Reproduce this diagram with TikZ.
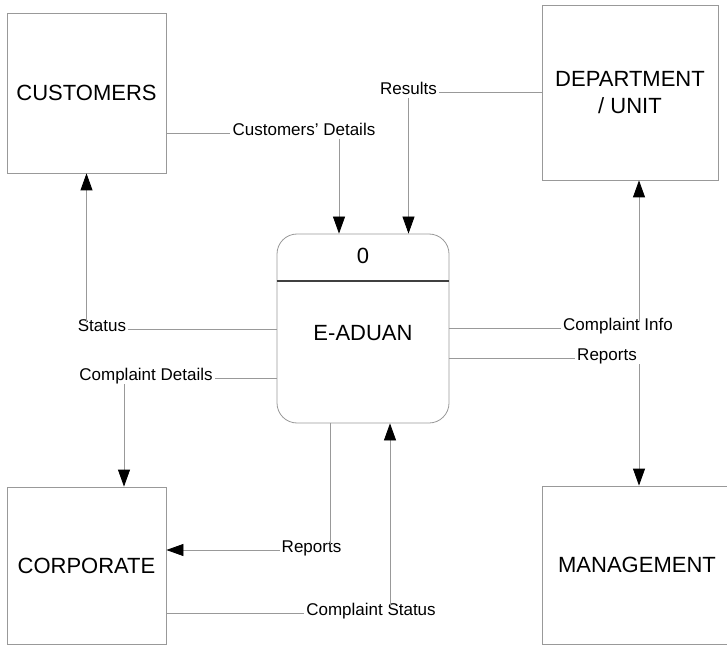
\documentclass[tikz,border=0pt]{standalone}
\usepackage{fontspec}
\setmainfont{Liberation Sans}
\usetikzlibrary{arrows.meta, positioning}

\begin{document}
\begin{tikzpicture}[
    x=1pt, y=1pt,
    entity/.style={draw=gray!80, line width=0.8pt, inner sep=0pt, align=center, font=\fontsize{22}{27}\selectfont},
    process/.style={draw=gray!80, line width=0.8pt, rounded corners=20pt, minimum width=172pt, minimum height=189pt},
    big/.style={inner sep=1pt, font=\fontsize{22}{27}\selectfont},
    flowlbl/.style={inner sep=2pt, text height=1.3ex, text depth=0.2ex, font=\fontsize{17}{20}\selectfont},
    flow/.style={draw=gray!80, line width=0.8pt},
    arr/.style={flow, -{Triangle[length=17pt, width=12pt, color=black]}}
  ]
    \useasboundingbox (0,0) rectangle (727,646);
    \fill[white] (0,0) rectangle (727,646);

    \node[entity, minimum width=159pt, minimum height=160pt] (cust) at (86.5,553) {CUSTOMERS};
    \node[entity, minimum width=176pt, minimum height=175pt] (dept) at (630,553.5) {DEPARTMENT\\/ UNIT};
    \node[entity, minimum width=159pt, minimum height=157pt] (corp) at (86.5,80.5) {CORPORATE};
    \node[entity, minimum width=190pt, minimum height=158pt] (mgmt) at (637,81) {MANAGEMENT};
    \node[process] (proc) at (363,317.5) {};
    \draw[line width=2pt, black!75] ([yshift=-47pt]proc.north west) -- ([yshift=-47pt]proc.north east);
    \node[big] (pnum) at ([yshift=-22pt]proc.north) {0};
    \node[big] (pname) at ([yshift=-4.5pt]proc.center) {E-ADUAN};

    \node[flowlbl] (cd) at (304,513) {Customers' Details};
    \node[flowlbl] (res) at (408.5,554) {Results};
    \node[flowlbl] (status) at (102,317) {Status};
    \node[flowlbl] (cdet) at (146,268) {Complaint Details};
    \node[flowlbl] (cinfo) at (618,318) {Complaint Info};
    \node[flowlbl] (rep1) at (607,288) {Reports};
    \node[flowlbl] (rep2) at (311.5,96) {Reports};
    \node[flowlbl] (cstat) at (371,33) {Complaint Status};

    \coordinate (pin1) at ([xshift=-24pt]proc.north);
    \coordinate (pin3) at ([xshift=27pt]proc.south);
    \coordinate (pout) at ([xshift=-33pt]proc.south);
    \coordinate (cdown) at ([xshift=37.5pt]corp.north);
    \coordinate (dup) at ([xshift=9pt]dept.south);
    \coordinate (mdown) at (dup |- mgmt.north);

    \draw[flow] (cust.east |- cd) -- (cd.west);
    \draw[arr] (pin1 |- cd.south) -- (pin1);
    \draw[flow] (res.east) -- (res.east -| dept.west);
    \draw[arr] (res.south) -- (res.south |- proc.north);
    \draw[flow] (proc.west |- status) -- (status.east);
    \draw[arr] (status.north -| cust.south) -- (cust.south);
    \draw[flow] (proc.west |- cdet) -- (cdet.east);
    \draw[arr] (cdown |- cdet.south) -- (cdown);
    \draw[flow] (proc.east |- cinfo) -- (cinfo.west);
    \draw[arr] (dup |- cinfo.north) -- (dup);
    \draw[flow] (proc.east |- rep1) -- (rep1.west);
    \draw[arr] (mdown |- rep1.south) -- (mdown);
    \draw[flow] (pout) -- (pout |- rep2.north);
    \draw[arr] (rep2.west) -- (rep2.west -| corp.east);
    \draw[flow] (corp.east |- cstat) -- (cstat.west);
    \draw[arr] (pin3 |- cstat.north) -- (pin3);
  \end{tikzpicture}
\end{document}
